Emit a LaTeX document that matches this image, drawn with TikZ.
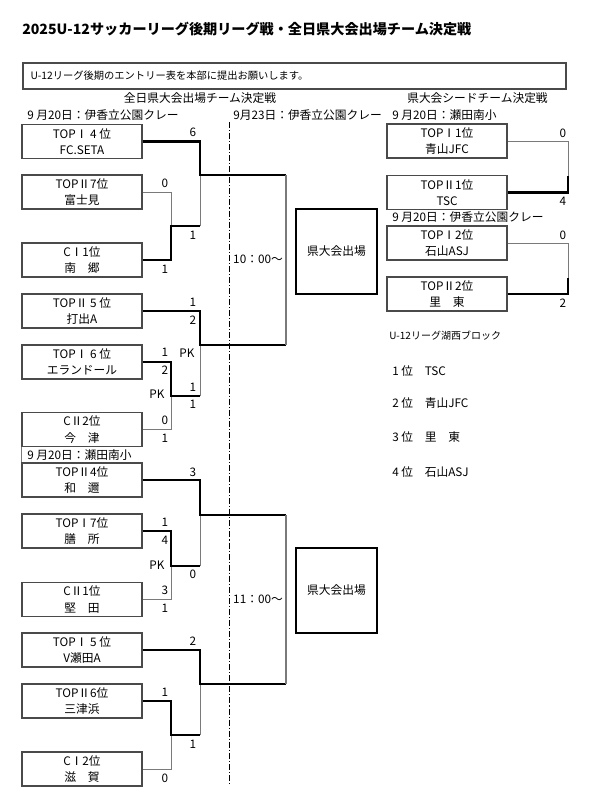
\documentclass[tikz,border=0pt]{standalone}
\usepackage{fontspec}
\setmainfont{Noto Sans CJK JP}
\usepackage{tikz}
\usetikzlibrary{positioning}
\definecolor{BoxGray}{HTML}{4A4A4A}
\definecolor{LineGray}{HTML}{7A7A7A}

\begin{document}
\begin{tikzpicture}[x=0.75pt,y=-0.75pt,font=\fontsize{8.8}{12.4}\selectfont]
\tikzstyle{team}=[rectangle,draw=BoxGray,line width=0.9pt,minimum width=90pt,minimum height=25.5pt,inner sep=0pt,align=center]
\tikzstyle{entry}=[rectangle,draw=black,line width=0.9pt,minimum width=60.75pt,minimum height=63.75pt,inner sep=0pt]
\tikzstyle{notebox}=[rectangle,draw=BoxGray,line width=0.9pt,minimum height=19.5pt,text width=396pt,inner xsep=5.6pt,align=left,font=\fontsize{7.7}{9}\selectfont]
\tikzstyle{datetext}=[anchor=west,inner sep=0pt]
\tikzstyle{score}=[inner sep=0pt]
\tikzstyle{win}=[line width=2.2pt]
\tikzstyle{lose}=[draw=LineGray,line width=0.75pt]
\tikzstyle{final}=[draw=LineGray,line width=1.1pt]
\tikzstyle{divider}=[line width=0.6pt,dash pattern=on 4.5pt off 1.5pt on 0.8pt off 1.5pt]
\useasboundingbox (0,0) rectangle (594,797);

% title and note
\node[anchor=west,inner sep=0pt,font=\fontsize{10.6}{12}\selectfont\bfseries] (title) at (22,29) {2025U-12サッカーリーグ後期リーグ戦・全日県大会出場チーム決定戦};
\node[notebox] (note) at (294.5,76) {U-12リーグ後期のエントリー表を本部に提出お願いします。};
\node[inner sep=0pt] (head1) at (200,98) {全日県大会出場チーム決定戦};
\node[inner sep=0pt] (head2) at (477.5,98) {県大会シードチーム決定戦};
\node[datetext] (date1) at (27,115) {9 月20日：伊香立公園クレー};
\node[datetext] (date2) at (233,115) {9月23日：伊香立公園クレー};
\node[datetext] (date3) at (392,115) {9 月20日：瀬田南小};
\node[datetext] (date4) at (392,217) {9 月20日：伊香立公園クレー};
\node[datetext] (date5) at (27,455) {9 月20日：瀬田南小};

% left bracket
\node[team] (t1) at (82,141.5) {TOPⅠ 4 位\\FC.SETA};
\node[team] (t2) at (82,192) {TOPⅡ7位\\富士見};
\node[team] (t3) at (82,260) {CⅠ1位\\南　郷};
\node[team] (t4) at (82,311) {TOPⅡ 5 位\\打出A};
\node[team] (t5) at (82,362) {TOPⅠ 6 位\\エランドール};
\node[team] (t6) at (82,429.5) {CⅡ2位\\今　津};
\node[team] (t7) at (82,480) {TOPⅡ4位\\和　邇};
\node[team] (t8) at (82,531) {TOPⅠ7位\\膳　所};
\node[team] (t9) at (82,599.5) {CⅡ1位\\堅　田};
\node[team] (t10) at (82,650) {TOPⅠ 5 位\\V瀬田A};
\node[team] (t11) at (82,701) {TOPⅡ6位\\三津浜};
\node[team] (t12) at (82,769) {CⅠ2位\\滋　賀};
\draw[lose] (t6.south west) -- (t7.north west);

\coordinate (m1) at (171,226); \coordinate (n1) at (200,226);
\coordinate (s1) at (200,175); \coordinate (f1) at (286,175);
\coordinate (m2) at (171,396); \coordinate (n2) at (200,396);
\coordinate (s2) at (200,345); \coordinate (f2) at (286,345);
\coordinate (m3) at (171,566); \coordinate (n3) at (200,566);
\coordinate (s3) at (200,515); \coordinate (f3) at (286,515);
\coordinate (m4) at (171,735); \coordinate (n4) at (200,735);
\coordinate (s4) at (200,684); \coordinate (f4) at (286,684);

\draw[lose] (t2.east) -| (m1);
\draw[lose] (n1) -- (s1);
\draw[win] (t1.east) -| (s1) -- (f1);
\draw[win] (t3.east) -| (m1) -- (n1);
\draw[lose] (t6.east) -| (m2);
\draw[lose] (n2) -- (s2);
\draw[win] (t4.east) -| (s2) -- (f2);
\draw[win] (t5.east) -| (m2) -- (n2);
\draw[lose] (t9.east) -| (m3);
\draw[lose] (n3) -- (s3);
\draw[win] (t7.east) -| (s3) -- (f3);
\draw[win] (t8.east) -| (m3) -- (n3);
\draw[lose] (t12.east) -| (m4);
\draw[lose] (n4) -- (s4);
\draw[win] (t10.east) -| (s4) -- (f4);
\draw[win] (t11.east) -| (m4) -- (n4);
\draw[final] (f1) -- (f2);
\draw[final] (f3) -- (f4);

% venue line and kick-off times
\coordinate (d0) at (229,122);
\coordinate (d1) at (229,786);
\draw[divider] (d0) -- (d1);
\node[inner sep=0pt] (time1) at (258,259) {10：00〜};
\node[inner sep=0pt] (time2) at (258,599) {11：00〜};
\node[entry] (e1) at (336.5,251.5) {県大会出場};
\node[entry] (e2) at (336.5,590.5) {県大会出場};

% seed bracket
\node[team] (r1) at (447,141) {TOPⅠ1位\\青山JFC};
\node[team] (r2) at (447,192.5) {TOPⅡ1位\\TSC};
\node[team] (r3) at (447,243) {TOPⅠ2位\\石山ASJ};
\node[team] (r4) at (447,294) {TOPⅡ2位\\里　東};
\coordinate (q1) at (568,192.5); \coordinate (q1t) at (568,176);
\coordinate (q2) at (568,294); \coordinate (q2t) at (568,278);
\draw[lose] (r1.east) -| (q1);
\draw[win] (r2.east) -| (q1t);
\draw[lose] (r3.east) -| (q2);
\draw[win] (r4.east) -| (q2t);

% scores
\foreach \x/\y/\s [count=\i] in {193/132/6,165/183/0,193/235/1,165/269/1,
  193/302/1,193/320/2,187/353/PK,165/352/1,165/370/2,157/394/PK,193/387/1,193/404/1,165/420/0,165/438/1,
  193/472/3,165/522/1,165/540/4,157/565/PK,193/574/0,165/590/3,165/608/1,
  193/641/2,165/692/1,193/744/1,165/778/0,
  563/133/0,563/201/4,563/235/0,563/303/2}
  \node[score] (sc\i) at (\x,\y) {\s};

% league table
\node[datetext,font=\fontsize{7.5}{9}\selectfont] (block) at (389,336) {U-12リーグ湖西ブロック};
\node[datetext] (rank1) at (392,371) {1 位　TSC};
\node[datetext] (rank2) at (392,403) {2 位　青山JFC};
\node[datetext] (rank3) at (392,437) {3 位　里　東};
\node[datetext] (rank4) at (392,472) {4 位　石山ASJ};
\end{tikzpicture}
\end{document}
